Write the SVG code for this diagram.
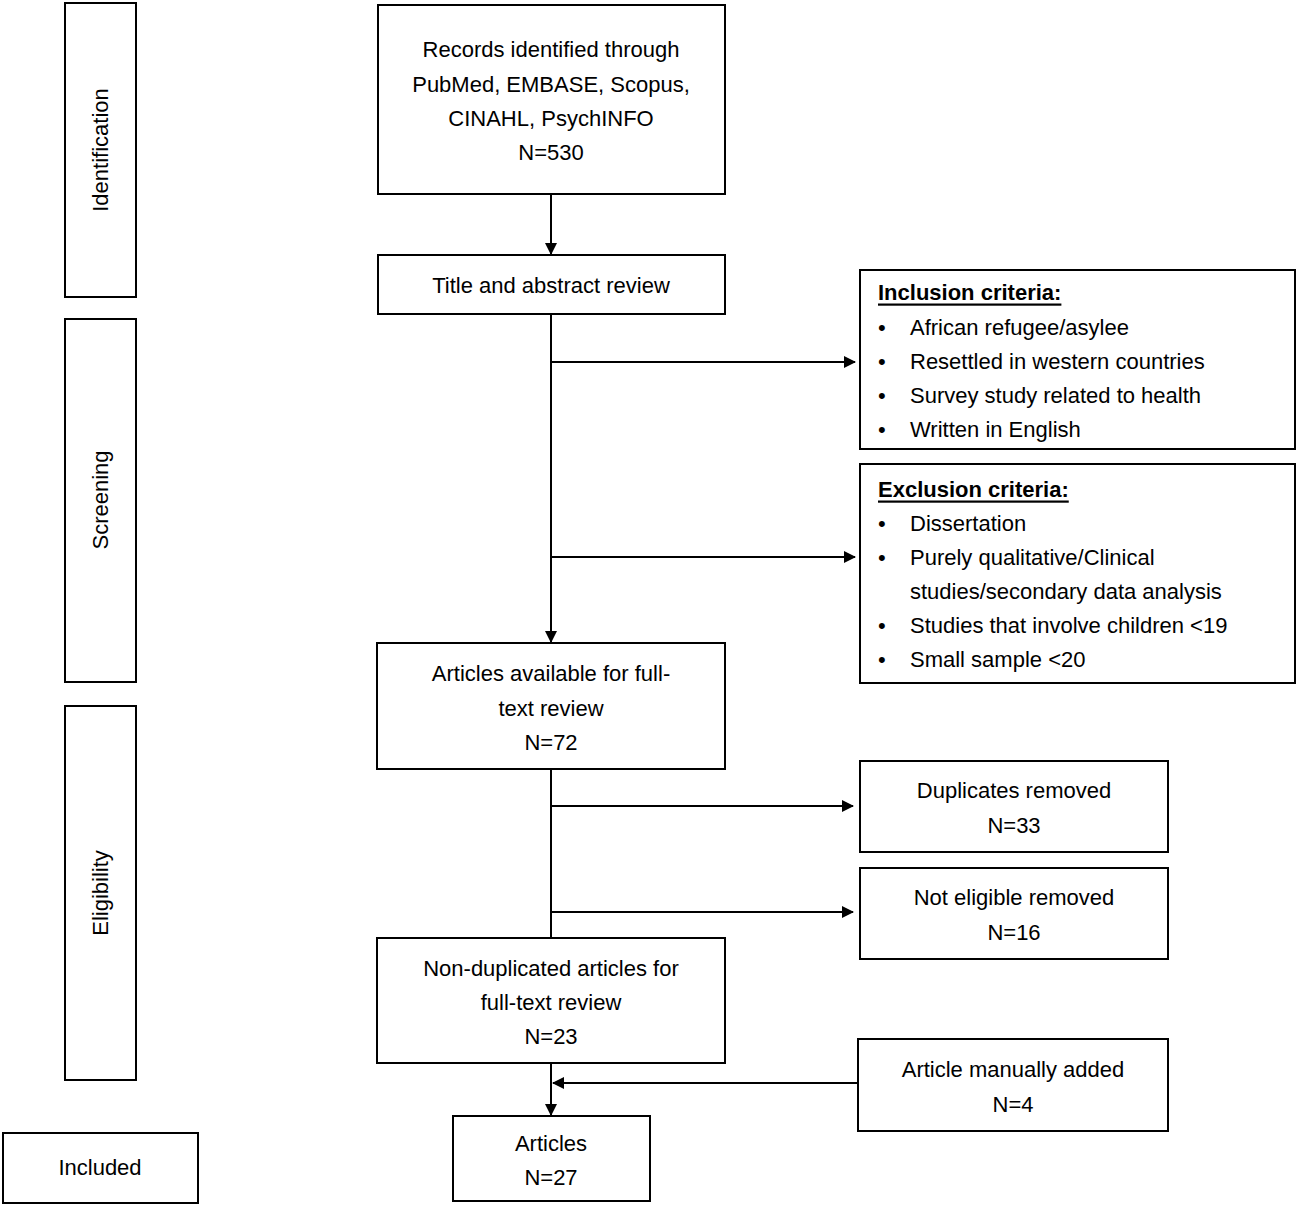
<svg xmlns="http://www.w3.org/2000/svg" width="1299" height="1207" viewBox="0 0 1299 1207">
<defs><marker id="ah" markerWidth="12" markerHeight="12" refX="11" refY="6" orient="auto" markerUnits="userSpaceOnUse"><path d="M0,0 L12,6 L0,12 z" fill="#000"/></marker>
<style>rect{fill:#fff;stroke:#000;stroke-width:2}text{font-family:"Liberation Sans",Arial,sans-serif;font-size:22px;fill:#000;dominant-baseline:central}.c{text-anchor:middle}.l{stroke:#000;stroke-width:2;fill:none}</style></defs>
<rect width="1299" height="1207" style="stroke:none"/>
<g id="stage-identification"><rect x="65" y="3" width="71" height="294"/><text class="c" transform="translate(100,150) rotate(-90)">Identification</text></g>
<g id="stage-screening"><rect x="65" y="319" width="71" height="363"/><text class="c" transform="translate(100,500) rotate(-90)">Screening</text></g>
<g id="stage-eligibility"><rect x="65" y="706" width="71" height="374"/><text class="c" transform="translate(100,893) rotate(-90)">Eligibility</text></g>
<g id="stage-included"><rect x="3" y="1133" width="195" height="70"/><text class="c" x="100" y="1167">Included</text></g>
<g id="records"><rect x="378" y="5" width="347" height="189"/><text class="c" x="551" y="49">Records identified through</text><text class="c" x="551" y="84">PubMed, EMBASE, Scopus,</text><text class="c" x="551" y="118">CINAHL, PsychINFO</text><text class="c" x="551" y="152">N=530</text></g>
<g id="title-review"><rect x="378" y="255" width="347" height="59"/><text class="c" x="551" y="285">Title and abstract review</text></g>
<g id="inclusion"><rect x="860" y="270" width="435" height="179"/><text x="878" y="292" font-weight="bold" text-decoration="underline">Inclusion criteria:</text>
<text x="878" y="327">•</text><text x="910" y="327">African refugee/asylee</text>
<text x="878" y="361">•</text><text x="910" y="361">Resettled in western countries</text>
<text x="878" y="395">•</text><text x="910" y="395">Survey study related to health</text>
<text x="878" y="429">•</text><text x="910" y="429">Written in English</text></g>
<g id="exclusion"><rect x="860" y="464" width="435" height="219"/><text x="878" y="489" font-weight="bold" text-decoration="underline">Exclusion criteria:</text>
<text x="878" y="523">•</text><text x="910" y="523">Dissertation</text>
<text x="878" y="557">•</text><text x="910" y="557">Purely qualitative/Clinical</text>
<text x="910" y="591">studies/secondary data analysis</text>
<text x="878" y="625">•</text><text x="910" y="625">Studies that involve children &lt;19</text>
<text x="878" y="659">•</text><text x="910" y="659">Small sample &lt;20</text></g>
<g id="fulltext"><rect x="377" y="643" width="348" height="126"/><text class="c" x="551" y="673">Articles available for full-</text><text class="c" x="551" y="708">text review</text><text class="c" x="551" y="742">N=72</text></g>
<g id="duplicates"><rect x="860" y="761" width="308" height="91"/><text class="c" x="1014" y="790">Duplicates removed</text><text class="c" x="1014" y="825">N=33</text></g>
<g id="noteligible"><rect x="860" y="868" width="308" height="91"/><text class="c" x="1014" y="897">Not eligible removed</text><text class="c" x="1014" y="932">N=16</text></g>
<g id="nondup"><rect x="377" y="938" width="348" height="125"/><text class="c" x="551" y="968">Non-duplicated articles for</text><text class="c" x="551" y="1002">full-text review</text><text class="c" x="551" y="1036">N=23</text></g>
<g id="manual"><rect x="858" y="1039" width="310" height="92"/><text class="c" x="1013" y="1069">Article manually added</text><text class="c" x="1013" y="1104">N=4</text></g>
<g id="articles"><rect x="453" y="1116" width="197" height="85"/><text class="c" x="551" y="1143">Articles</text><text class="c" x="551" y="1177">N=27</text></g>
<g id="connectors">
<line class="l" x1="551" y1="194" x2="551" y2="254" marker-end="url(#ah)"/>
<line class="l" x1="551" y1="314" x2="551" y2="642" marker-end="url(#ah)"/>
<line class="l" x1="551" y1="362" x2="855" y2="362" marker-end="url(#ah)"/>
<line class="l" x1="551" y1="557" x2="855" y2="557" marker-end="url(#ah)"/>
<line class="l" x1="551" y1="769" x2="551" y2="938"/>
<line class="l" x1="551" y1="806" x2="853" y2="806" marker-end="url(#ah)"/>
<line class="l" x1="551" y1="912" x2="853" y2="912" marker-end="url(#ah)"/>
<line class="l" x1="551" y1="1063" x2="551" y2="1115" marker-end="url(#ah)"/>
<line class="l" x1="858" y1="1083" x2="553" y2="1083" marker-end="url(#ah)"/>
</g>
</svg>
